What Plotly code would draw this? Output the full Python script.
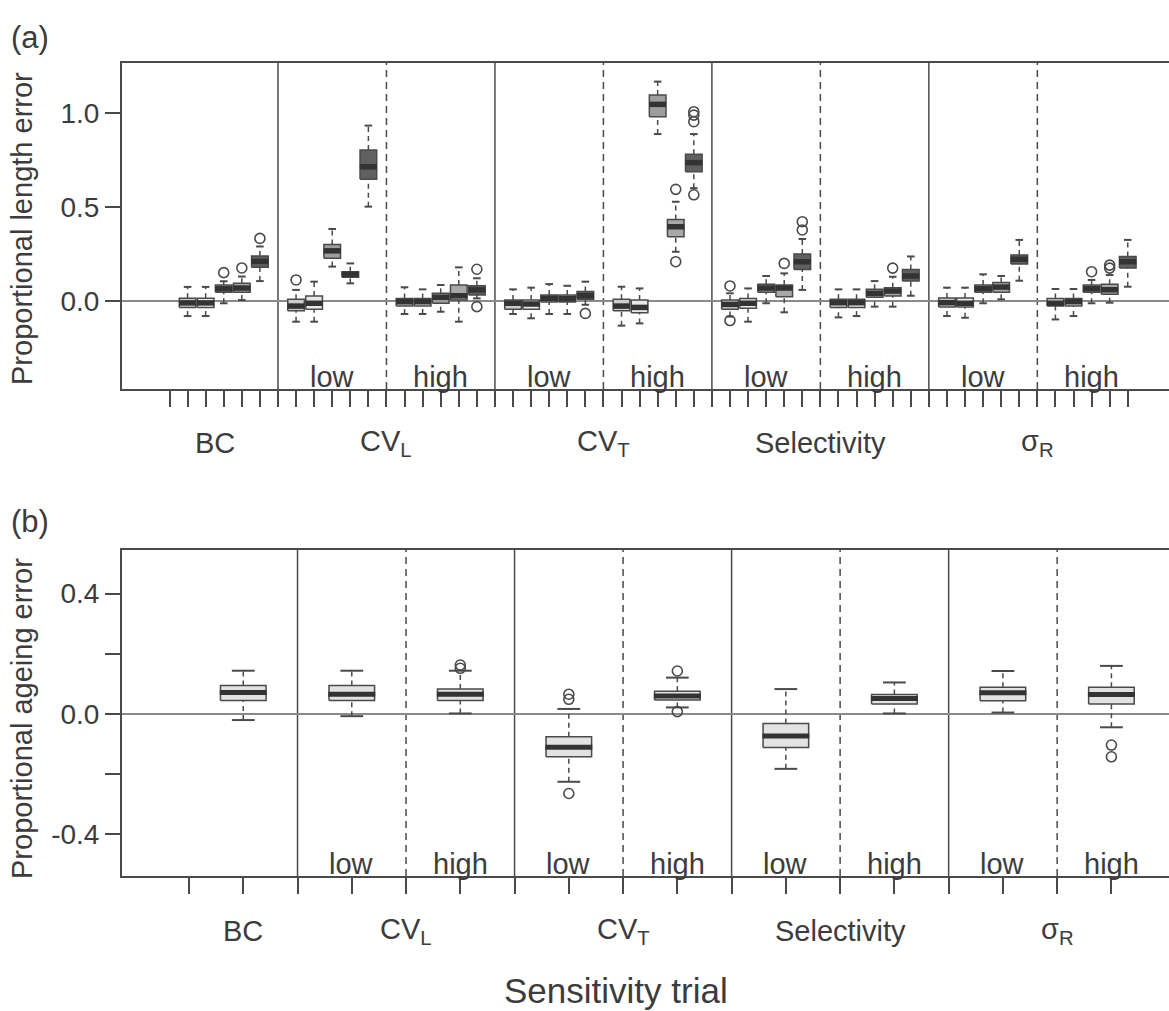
import plotly.graph_objects as go

# ---------------- DATA ----------------
# Panel (a): proportional length error, 9 sub-groups x 5 boxes (45 boxes)
a_groups = ["BC", "CV<sub>L</sub>", "CV<sub>T</sub>", "Selectivity", "σ<sub>R</sub>"]
a_sublabels = ["", "low", "high", "low", "high", "low", "high", "low", "high"]
a_lo = [-0.080, -0.080, -0.012, 0.005, 0.106,
        -0.110, -0.110, 0.183, 0.094, 0.502,
        -0.069, -0.069, -0.057, -0.110, 0.014,
        -0.069, -0.092, -0.069, -0.069, -0.020,
        -0.131, -0.119, 0.888, 0.262, 0.600,
        -0.083, -0.110, -0.012, -0.060, 0.059,
        -0.087, -0.080, -0.030, -0.030, 0.028,
        -0.080, -0.089, -0.012, 0.009, 0.108,
        -0.098, -0.080, -0.012, -0.009, 0.076]
a_q1 = [-0.035, -0.035, 0.046, 0.046, 0.179,
        -0.052, -0.044, 0.227, 0.126, 0.647,
        -0.027, -0.027, -0.012, 0.005, 0.032,
        -0.044, -0.044, -0.005, -0.005, 0.009,
        -0.052, -0.062, 0.980, 0.342, 0.688,
        -0.044, -0.039, 0.046, 0.023, 0.168,
        -0.034, -0.034, 0.020, 0.027, 0.106,
        -0.032, -0.032, 0.046, 0.046, 0.197,
        -0.027, -0.027, 0.046, 0.036, 0.175]
a_med = [-0.010, -0.010, 0.065, 0.069, 0.211,
         -0.027, -0.012, 0.267, 0.142, 0.714,
         -0.004, -0.004, 0.020, 0.028, 0.059,
         -0.012, -0.016, 0.014, 0.012, 0.028,
         -0.027, -0.034, 1.046, 0.395, 0.736,
         -0.018, -0.012, 0.069, 0.069, 0.209,
         -0.009, -0.009, 0.041, 0.053, 0.133,
         -0.009, -0.012, 0.065, 0.074, 0.222,
         -0.012, -0.004, 0.065, 0.060, 0.209]
a_q3 = [0.015, 0.015, 0.085, 0.094, 0.239,
        0.009, 0.027, 0.301, 0.156, 0.803,
        0.014, 0.014, 0.041, 0.085, 0.081,
        0.005, 0.005, 0.032, 0.032, 0.050,
        0.009, 0.005, 1.096, 0.434, 0.780,
        0.005, 0.014, 0.089, 0.085, 0.250,
        0.009, 0.009, 0.062, 0.071, 0.168,
        0.016, 0.016, 0.085, 0.098, 0.245,
        0.014, 0.014, 0.085, 0.089, 0.237]
a_hi = [0.075, 0.075, 0.105, 0.130, 0.290,
        0.059, 0.103, 0.383, 0.200, 0.933,
        0.073, 0.062, 0.085, 0.179, 0.121,
        0.062, 0.071, 0.090, 0.081, 0.103,
        0.076, 0.067, 1.167, 0.528, 0.888,
        0.041, 0.067, 0.133, 0.147, 0.330,
        0.062, 0.062, 0.106, 0.129, 0.237,
        0.071, 0.071, 0.142, 0.133, 0.325,
        0.064, 0.064, 0.112, 0.138, 0.325]
a_out_box = [2, 3, 4, 5, 14, 14, 19, 23, 23, 24, 24, 24, 24, 25, 25, 28, 29, 29, 33, 42, 43, 43]
a_out_val = [0.151, 0.176, 0.333, 0.112, 0.169, -0.030, -0.066, 0.594, 0.209,
             1.007, 0.989, 0.954, 0.565, 0.080, -0.104, 0.200, 0.378, 0.422,
             0.175, 0.156, 0.175, 0.191]

# Panel (b): proportional ageing error, 9 boxes
b_groups = ["BC", "CV<sub>L</sub>", "CV<sub>T</sub>", "Selectivity", "σ<sub>R</sub>"]
b_sublabels = ["", "low", "high", "low", "high", "low", "high", "low", "high"]
b_lo = [-0.020, -0.007, 0.002, -0.225, 0.022, -0.182, 0.002, 0.005, -0.044]
b_q1 = [0.045, 0.045, 0.045, -0.142, 0.047, -0.111, 0.033, 0.044, 0.033]
b_med = [0.072, 0.066, 0.066, -0.110, 0.060, -0.073, 0.052, 0.071, 0.065]
b_q3 = [0.095, 0.095, 0.083, -0.075, 0.076, -0.031, 0.065, 0.089, 0.089]
b_hi = [0.144, 0.144, 0.144, 0.017, 0.121, 0.083, 0.105, 0.143, 0.160]
b_out_box = [2, 2, 3, 3, 3, 4, 4, 8, 8]
b_out_val = [0.163, 0.152, 0.066, 0.049, -0.264, 0.143, 0.008, -0.103, -0.142]

a_yticks = [0.0, 0.5, 1.0]
a_yticktext = ["0.0", "0.5", "1.0"]
b_yticks = [-0.4, 0.0, 0.4]
b_yticktext = ["-0.4", "0.0", "0.4"]
b_yminor = [-0.2, 0.2]

# ---------------- STYLE ----------------
FONT = "Liberation Sans, Arial, Helvetica, sans-serif"
TXT = "#3c3c3c"
LINE = "#4a4a4a"
a_fills = ["#cdcdcd", "#e8e8e8", "#9e9e9e", "#a8a8a8", "#606060"]
b_fill = "#e2e2e2"

W, H = 1169, 1011
L = 122
PW = W - L
A_TOP, A_BOT = 63, 389
B_TOP, B_BOT = 550, 876


def px2paper_x(px):
    return (px - L) / PW


def px2paper_y(py):
    return 1 - py / H


fig = go.Figure()


def add_boxes(xs, lo, q1, med, q3, hi, fills, hw, cw, medw, xa, ya, outx, outy):
    # whiskers (dashed)
    wx, wy = [], []
    for x, l, a, b, h in zip(xs, lo, q1, q3, hi):
        wx += [x, x, None, x, x, None]
        wy += [l, a, None, b, h, None]
    fig.add_trace(go.Scatter(x=wx, y=wy, mode="lines", xaxis=xa, yaxis=ya,
                             line=dict(color=LINE, width=1.5, dash="5px,4px"),
                             hoverinfo="skip", showlegend=False))
    # caps
    cx, cy = [], []
    for x, l, h in zip(xs, lo, hi):
        cx += [x - cw, x + cw, None, x - cw, x + cw, None]
        cy += [l, l, None, h, h, None]
    fig.add_trace(go.Scatter(x=cx, y=cy, mode="lines", xaxis=xa, yaxis=ya,
                             line=dict(color=LINE, width=2),
                             hoverinfo="skip", showlegend=False))
    # boxes grouped by fill colour
    for col in sorted(set(fills)):
        bx, by = [], []
        for x, a, b, f in zip(xs, q1, q3, fills):
            if f != col:
                continue
            bx += [x - hw, x + hw, x + hw, x - hw, x - hw, None]
            by += [a, a, b, b, a, None]
        fig.add_trace(go.Scatter(x=bx, y=by, mode="lines", fill="toself",
                                 fillcolor=col, xaxis=xa, yaxis=ya,
                                 line=dict(color=LINE, width=1.5),
                                 hoverinfo="skip", showlegend=False))
    # medians
    mx, my = [], []
    for x, m in zip(xs, med):
        mx += [x - hw * 1.03, x + hw * 1.03, None]
        my += [m, m, None]
    fig.add_trace(go.Scatter(x=mx, y=my, mode="lines", xaxis=xa, yaxis=ya,
                             line=dict(color="#333333", width=medw),
                             hoverinfo="skip", showlegend=False))
    # outliers
    fig.add_trace(go.Scatter(x=outx, y=outy, mode="markers", xaxis=xa, yaxis=ya,
                             marker=dict(symbol="circle-open", size=10,
                                         color=LINE, line=dict(width=1.6)),
                             hoverinfo="skip", showlegend=False))


# panel (a) positions: 6 slots per sub-group, slot 0 of each is the divider
a_x = [6 * (i // 5) + 1 + (i % 5) for i in range(len(a_med))]
a_f = [a_fills[i % 5] for i in range(len(a_med))]
add_boxes(a_x, a_lo, a_q1, a_med, a_q3, a_hi, a_f, 0.46, 0.21, 5.5, "x", "y",
          [a_x[i] for i in a_out_box], a_out_val)

# panel (b) positions: 2 slots per sub-group
b_x = [2 * i + 1 for i in range(len(b_med))]
add_boxes(b_x, b_lo, b_q1, b_med, b_q3, b_hi, [b_fill] * len(b_med), 0.42, 0.21, 5,
          "x2", "y2", [b_x[i] for i in b_out_box], b_out_val)

shapes = []
annotations = []

# dividers panel (a)
for k in range(1, 9):
    shapes.append(dict(type="line", xref="x", yref="y domain", x0=6 * k, x1=6 * k,
                       y0=0, y1=1, layer="below",
                       line=dict(color=LINE, width=1.5,
                                 dash="solid" if k % 2 == 1 else "7px,5px")))
# dividers panel (b)
for k in range(1, 9):
    shapes.append(dict(type="line", xref="x2", yref="y2 domain", x0=2 * k, x1=2 * k,
                       y0=0, y1=1, layer="below",
                       line=dict(color=LINE, width=1.5,
                                 dash="solid" if k % 2 == 1 else "7px,5px")))

SUBF = dict(size=29, color=TXT, family=FONT)
GRPF = dict(size=29, color=TXT, family=FONT)

# low/high labels
for k, s in enumerate(a_sublabels):
    if s:
        annotations.append(dict(text=s, xref="x", yref="y domain", x=6 * k + 3, y=0,
                                xanchor="center", yanchor="bottom", yshift=-6,
                                showarrow=False, font=SUBF))
for k, s in enumerate(b_sublabels):
    if s:
        annotations.append(dict(text=s, xref="x2", yref="y2 domain", x=2 * k + 1, y=0,
                                xanchor="center", yanchor="bottom", yshift=-6,
                                showarrow=False, font=SUBF))

# group labels
a_gpos = [2.5, 12, 24, 36, 48]
for g, p in zip(a_groups, a_gpos):
    annotations.append(dict(text=g, xref="x", yref="y domain", x=p, y=0,
                            xanchor="center", yanchor="middle", yshift=-54,
                            showarrow=False, font=GRPF))
b_gpos = [1, 4, 8, 12, 16]
for g, p in zip(b_groups, b_gpos):
    annotations.append(dict(text=g, xref="x2", yref="y2 domain", x=p, y=0,
                            xanchor="center", yanchor="middle", yshift=-55,
                            showarrow=False, font=GRPF))

# y titles, panel tags, x title
annotations += [
    dict(text="Proportional length error", xref="paper", yref="paper",
         x=px2paper_x(22), y=px2paper_y(229), textangle=-90,
         showarrow=False, xanchor="center", yanchor="middle",
         font=dict(size=29, color=TXT, family=FONT)),
    dict(text="Proportional ageing error", xref="paper", yref="paper",
         x=px2paper_x(22), y=px2paper_y(719), textangle=-90,
         showarrow=False, xanchor="center", yanchor="middle",
         font=dict(size=29, color=TXT, family=FONT)),
    dict(text="(a)", xref="paper", yref="paper", x=px2paper_x(30), y=px2paper_y(37),
         showarrow=False, xanchor="center", yanchor="middle",
         font=dict(size=31, color=TXT, family=FONT)),
    dict(text="(b)", xref="paper", yref="paper", x=px2paper_x(30), y=px2paper_y(521),
         showarrow=False, xanchor="center", yanchor="middle",
         font=dict(size=31, color=TXT, family=FONT)),
    dict(text="Sensitivity trial", xref="paper", yref="paper", x=px2paper_x(616),
         y=px2paper_y(990), showarrow=False, xanchor="center", yanchor="middle",
         font=dict(size=35, color=TXT, family=FONT)),
]

a_slot_px = 18.08
b_slot_px = 54.26
xa_common = dict(showgrid=False, zeroline=False, showline=True, mirror=True,
                 linecolor=LINE, linewidth=2, ticks="outside", ticklen=16,
                 tickwidth=1.5, tickcolor=LINE, showticklabels=False)
ya_common = dict(showgrid=False, showline=True, linecolor=LINE, linewidth=2,
                 ticks="outside", ticklen=15, tickwidth=1.5, tickcolor=LINE,
                 zeroline=True, zerolinecolor="#8a8a8a", zerolinewidth=1.5,
                 tickfont=dict(size=28, color=TXT, family=FONT))

fig.update_layout(
    width=W, height=H,
    margin=dict(l=L, r=0, t=0, b=0),
    paper_bgcolor="white", plot_bgcolor="white",
    showlegend=False,
    font=dict(family=FONT, color=TXT),
    xaxis=dict(xa_common, domain=[0, 1], anchor="y",
               range=[-(169.5 - L) / a_slot_px, (W - 169.5) / a_slot_px],
               tickvals=list(range(54))),
    yaxis=dict(ya_common, domain=[px2paper_y(A_BOT), px2paper_y(A_TOP)], anchor="x",
               range=[-0.468, 1.266], tickvals=a_yticks, ticktext=a_yticktext),
    xaxis2=dict(xa_common, domain=[0, 1], anchor="y2",
                range=[-(189 - L) / b_slot_px, (W - 189) / b_slot_px],
                tickvals=list(range(18))),
    yaxis2=dict(ya_common, domain=[px2paper_y(B_BOT), px2paper_y(B_TOP)], anchor="x2",
                range=[-0.538, 0.545], tickvals=b_yticks, ticktext=b_yticktext,
                minor=dict(tickvals=b_yminor, ticks="outside", ticklen=15,
                           tickwidth=1.5, tickcolor=LINE, showgrid=False)),
    shapes=shapes,
    annotations=annotations,
)

fig.write_html("out.html")
